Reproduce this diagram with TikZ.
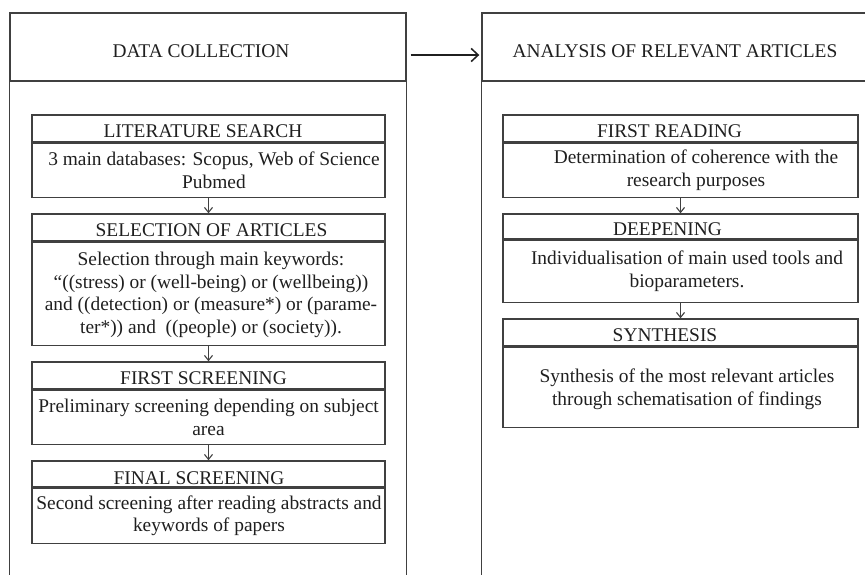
\documentclass[tikz,border=0pt]{standalone}
\usepackage{fontspec}
\setmainfont{Liberation Serif}
\usetikzlibrary{arrows.meta}

\begin{document}
\begin{tikzpicture}[x=1pt,y=-1pt,
  frame/.style={draw=black!75, line width=1.4pt},
  hdr/.style={frame, minimum height=68pt, inner sep=0pt},
  ttl/.style={frame, minimum height=27pt, inner sep=0pt},
  bdy/.style={frame, inner sep=0pt, anchor=north},
  txt/.style={inner sep=0pt, align=center, text=black!88,
              font=\fontsize{19.4}{22.5}\selectfont},
  bigarrow/.style={draw=black!88, line width=1.5pt,
                   -{Straight Barb[length=7pt,width=13pt,line width=1.5pt]}},
  steparrow/.style={draw=black!75, line width=1.1pt,
                    -{Straight Barb[length=5pt,width=8pt,line width=1.1pt]}}
]
\useasboundingbox (0,0) rectangle (865,574);
\clip (0,0) rectangle (865,574);

% ---------- the two columns ----------
\node[hdr, minimum width=396pt] (dc) at (208,47) {};
\node[txt] (dct) at ([shift={(-7,4)}]dc.center) {DATA COLLECTION};
\draw[frame] (dc.south west) -- ++(0,520);
\draw[frame] (dc.south east) -- ++(0,520);

\node[hdr, minimum width=386pt] (ar) at (675,47) {};
\node[txt] (art) at ([shift={(0,4)}]ar.center) {ANALYSIS OF RELEVANT ARTICLES};
\draw[frame] (ar.south west) -- ++(0,520);
\draw[frame] (ar.south east) -- ++(0,520);

\draw[bigarrow, shorten <=4pt, shorten >=2pt]
  ([yshift=-8pt]dc.east) -- ([yshift=-8pt]ar.west);

% ---------- data collection steps ----------
\node[ttl, minimum width=353pt] (l1t) at (208.5,128.5) {};
\node[bdy, minimum width=353pt, minimum height=54pt] (l1b) at (l1t.south) {};
\node[txt] (l1tt) at ([shift={(-5.5,2.5)}]l1t.center) {LITERATURE SEARCH};
\node[txt] (l1bt) at ([shift={(5.5,0)}]l1b.center)
  {3 main databases: Scopus, Web of Science\\Pubmed};

\node[ttl, minimum width=353pt] (l2t) at (208.5,227.5) {};
\node[bdy, minimum width=353pt, minimum height=103pt] (l2b) at (l2t.south) {};
\node[txt] (l2tt) at ([shift={(3,2.5)}]l2t.center) {SELECTION OF ARTICLES};
\node[txt] (l2bt) at ([shift={(2.5,1)}]l2b.center)
  {Selection through main keywords:\\
   ``((stress) or (well-being) or (wellbeing))\\
   and ((detection) or (measure*) or (parame-\\
   ter*)) and\ \ ((people) or (society)).};

\node[ttl, minimum width=353pt] (l3t) at (208.5,375.5) {};
\node[bdy, minimum width=353pt, minimum height=54pt] (l3b) at (l3t.south) {};
\node[txt] (l3tt) at ([shift={(-5,2.5)}]l3t.center) {FIRST SCREENING};
\node[txt] (l3bt) at ([shift={(0,0)}]l3b.center)
  {Preliminary screening depending on subject\\area};

\node[ttl, minimum width=353pt, minimum height=26pt] (l4t) at (208.5,474) {};
\node[bdy, minimum width=353pt, minimum height=55pt] (l4b) at (l4t.south) {};
\node[txt] (l4tt) at ([shift={(-9.5,4)}]l4t.center) {FINAL SCREENING};
\node[txt] (l4bt) at ([shift={(0.5,0)}]l4b.center)
  {Second screening after reading abstracts and\\keywords of papers};

\draw[steparrow] (l1b.south) -- (l2t.north);
\draw[steparrow] (l2b.south) -- (l3t.north);
\draw[steparrow] (l3b.south) -- (l4t.north);

% ---------- analysis steps ----------
\node[ttl, minimum width=355pt] (r1t) at (680.5,128.5) {};
\node[bdy, minimum width=355pt, minimum height=54pt] (r1b) at (r1t.south) {};
\node[txt] (r1tt) at ([shift={(-11,2.5)}]r1t.center) {FIRST READING};
\node[txt] (r1bt) at ([shift={(15.5,0)}]r1b.center)
  {Determination of coherence with the\\research purposes};

\node[ttl, minimum width=355pt, minimum height=25pt] (r2t) at (680.5,226.5) {};
\node[bdy, minimum width=355pt, minimum height=62pt] (r2b) at (r2t.south) {};
\node[txt] (r2tt) at ([shift={(-13,2.5)}]r2t.center) {DEEPENING};
\node[txt] (r2bt) at ([shift={(6.5,0)}]r2b.center)
  {Individualisation of main used tools and\\bioparameters.};

\node[ttl, minimum width=355pt] (r3t) at (680.5,332.5) {};
\node[bdy, minimum width=355pt, minimum height=80pt] (r3b) at (r3t.south) {};
\node[txt] (r3tt) at ([shift={(-15.5,2.5)}]r3t.center) {SYNTHESIS};
\node[txt] (r3bt) at ([shift={(6.5,2)}]r3b.center)
  {Synthesis of the most relevant articles\\through schematisation of findings};

\draw[steparrow] (r1b.south) -- (r2t.north);
\draw[steparrow] (r2b.south) -- (r3t.north);
\end{tikzpicture}
\end{document}
